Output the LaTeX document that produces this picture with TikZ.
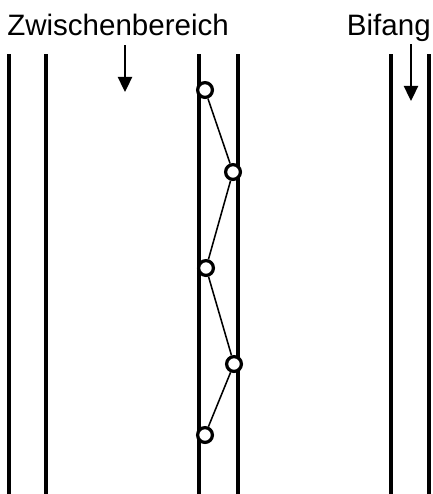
\documentclass[tikz,border=0pt]{standalone}
\usepackage{fontspec}
\setmainfont{Liberation Sans}
\usetikzlibrary{arrows.meta}

\tikzset{
  wall/.style={line width=2.2pt},
  knot/.style={circle,draw,fill=white,line width=2.3pt,minimum size=0.37cm,inner sep=0pt},
  zig/.style={line width=1.1pt},
  marker/.style={line width=1.1pt,-{Triangle[length=0.38cm,width=0.36cm]}},
  lbl/.style={font=\fontsize{21}{24}\selectfont,inner sep=0pt}
}

\begin{document}
\begin{tikzpicture}[x=0.025cm,y=-0.025cm]
\useasboundingbox (0,0) rectangle (433,494);

\node[lbl,anchor=base west] (zw) at (7,35) {Zwischenbereich};
\node[lbl,anchor=base east] (bf) at (431,35) {Bifang};

% Linien
\draw[wall] (9,54) -- (9,494);
\draw[wall] (46,54) -- (46,494);
\draw[wall] (199,54) -- (199,494);
\draw[wall] (238,54) -- (238,494);
\draw[wall] (391,54) -- (391,494);
\draw[wall] (429,54) -- (429,494);

\coordinate (zw0) at (125,45);
\coordinate (zw1) at (125,92);
\draw[marker] (zw0) -- (zw1);
\coordinate (bf0) at (411,44);
\coordinate (bf1) at (411,101);
\draw[marker] (bf0) -- (bf1);

\node[knot] (k1) at (205,90) {};
\node[knot] (k2) at (233,172) {};
\node[knot] (k3) at (206,268) {};
\node[knot] (k4) at (234,364) {};
\node[knot] (k5) at (205,435) {};
\draw[zig] (k1) -- (k2);
\draw[zig] (k2) -- (k3);
\draw[zig] (k3) -- (k4);
\draw[zig] (k4) -- (k5);
\end{tikzpicture}
\end{document}
